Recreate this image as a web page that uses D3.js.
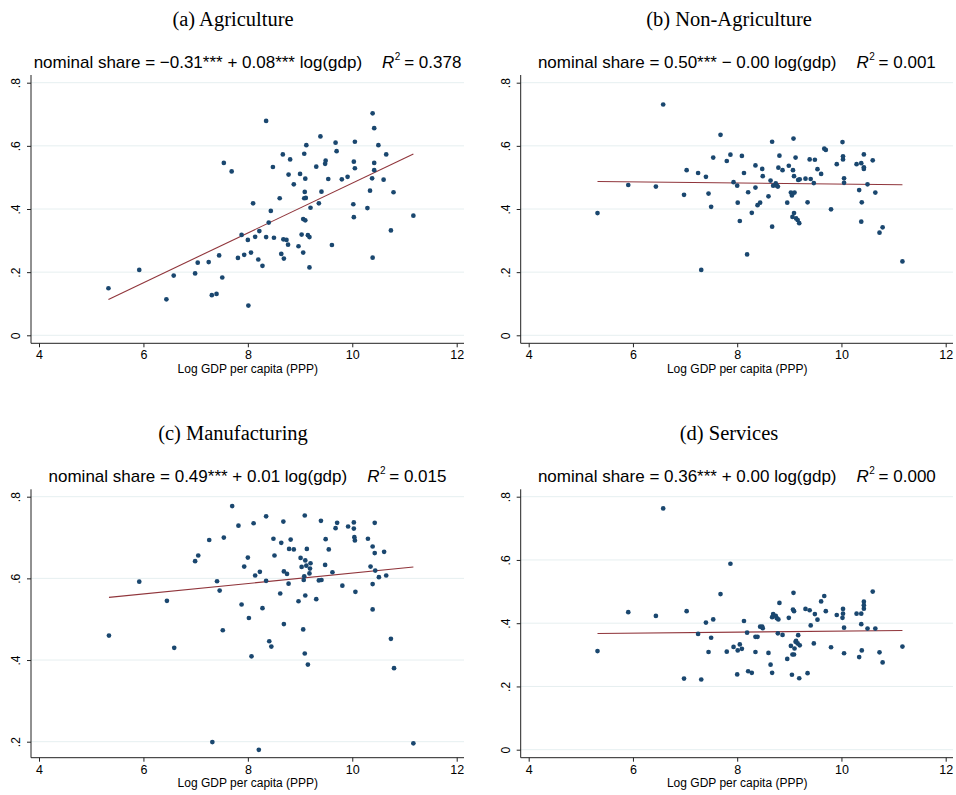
<!DOCTYPE html>
<meta charset="utf-8">
<title>Nominal shares vs log GDP per capita</title>
<style>
  body { margin: 0; background: #fff; }
  svg text { font-family: "Liberation Sans", Arial, sans-serif; }
  .title { font-family: "Liberation Serif", "DejaVu Serif", serif !important; }
</style>
<body>
<div id="container"></div>
<script src="https://cdn.jsdelivr.net/npm/d3@7/dist/d3.min.js"></script>
<script>

// points: [log gdp per capita, nominal share]
const agriculture = [
  [5.33,0.149],[5.92,0.207],[6.44,0.114],[6.58,0.189],[6.99,0.196],[7.04,0.230],[7.25,0.232],
  [7.31,0.127],[7.40,0.131],[7.45,0.253],[7.51,0.183],[7.54,0.546],[7.69,0.519],[7.81,0.245],
  [7.88,0.318],[7.93,0.255],[8.00,0.302],[8.01,0.094],[8.06,0.262],[8.10,0.418],[8.14,0.312],
  [8.20,0.240],[8.22,0.330],[8.28,0.220],[8.35,0.679],[8.35,0.311],[8.40,0.357],[8.44,0.394],
  [8.48,0.533],[8.50,0.309],[8.61,0.434],[8.64,0.258],[8.67,0.573],[8.68,0.304],[8.69,0.243],
  [8.74,0.302],[8.77,0.287],[8.78,0.509],[8.81,0.557],[8.88,0.478],[8.97,0.282],[9.00,0.511],
  [9.03,0.319],[9.06,0.368],[9.06,0.262],[9.08,0.575],[9.08,0.434],[9.09,0.454],[9.10,0.496],
  [9.10,0.364],[9.11,0.435],[9.12,0.602],[9.15,0.317],[9.18,0.311],[9.18,0.215],[9.20,0.404],
  [9.31,0.534],[9.36,0.418],[9.39,0.630],[9.41,0.455],[9.48,0.543],[9.49,0.553],[9.54,0.495],
  [9.61,0.286],[9.68,0.610],[9.70,0.583],[9.80,0.494],[9.91,0.502],[10.02,0.415],[10.03,0.374],
  [10.03,0.550],[10.05,0.529],[10.05,0.613],[10.29,0.403],[10.34,0.458],[10.38,0.497],[10.39,0.703],
  [10.39,0.246],[10.42,0.656],[10.42,0.546],[10.42,0.523],[10.50,0.602],[10.60,0.493],[10.65,0.573],
  [10.74,0.332],[10.79,0.453],[11.17,0.379]
];

const nonAgriculture = [
  [5.32,0.387],[5.91,0.476],[6.44,0.471],[6.58,0.731],[6.98,0.445],[7.03,0.523],[7.25,0.514],
  [7.31,0.207],[7.40,0.502],[7.45,0.449],[7.50,0.407],[7.54,0.563],[7.68,0.635],[7.80,0.552],
  [7.87,0.572],[7.93,0.485],[8.00,0.474],[8.01,0.420],[8.05,0.362],[8.09,0.568],[8.13,0.514],
  [8.19,0.256],[8.21,0.453],[8.28,0.388],[8.35,0.538],[8.35,0.468],[8.39,0.412],[8.44,0.420],
  [8.48,0.527],[8.49,0.504],[8.60,0.440],[8.64,0.490],[8.67,0.613],[8.67,0.344],[8.69,0.474],
  [8.74,0.481],[8.76,0.474],[8.78,0.471],[8.79,0.531],[8.81,0.569],[8.87,0.523],[8.96,0.420],
  [8.99,0.537],[9.03,0.452],[9.05,0.443],[9.06,0.375],[9.07,0.523],[9.08,0.623],[9.09,0.387],
  [9.09,0.504],[9.10,0.452],[9.12,0.563],[9.13,0.370],[9.16,0.365],[9.17,0.492],[9.19,0.355],
  [9.20,0.494],[9.31,0.496],[9.35,0.421],[9.39,0.557],[9.41,0.495],[9.47,0.482],[9.49,0.556],
  [9.54,0.526],[9.61,0.511],[9.67,0.591],[9.70,0.587],[9.80,0.399],[9.91,0.542],[10.02,0.612],
  [10.03,0.567],[10.03,0.557],[10.05,0.497],[10.05,0.483],[10.29,0.542],[10.34,0.460],[10.38,0.545],
  [10.38,0.360],[10.39,0.421],[10.43,0.573],[10.43,0.532],[10.43,0.527],[10.50,0.478],[10.60,0.554],
  [10.65,0.452],[10.73,0.325],[10.79,0.342],[11.17,0.234]
];

const manufacturing = [
  [5.34,0.460],[5.92,0.592],[6.45,0.545],[6.59,0.430],[6.99,0.642],[7.05,0.656],[7.26,0.694],
  [7.32,0.199],[7.41,0.593],[7.46,0.570],[7.52,0.473],[7.54,0.700],[7.70,0.777],[7.82,0.729],
  [7.88,0.536],[7.93,0.629],[8.00,0.651],[8.02,0.503],[8.07,0.409],[8.11,0.735],[8.14,0.607],
  [8.21,0.180],[8.23,0.616],[8.28,0.527],[8.35,0.752],[8.35,0.594],[8.41,0.446],[8.45,0.433],
  [8.49,0.697],[8.51,0.656],[8.62,0.563],[8.64,0.687],[8.68,0.739],[8.69,0.617],[8.69,0.488],
  [8.75,0.611],[8.78,0.587],[8.79,0.672],[8.82,0.695],[8.88,0.671],[8.97,0.544],[9.01,0.650],
  [9.03,0.628],[9.06,0.475],[9.07,0.596],[9.08,0.605],[9.09,0.754],[9.09,0.416],[9.10,0.644],
  [9.10,0.558],[9.12,0.631],[9.13,0.672],[9.15,0.389],[9.18,0.612],[9.19,0.624],[9.20,0.637],
  [9.31,0.549],[9.36,0.595],[9.40,0.741],[9.41,0.596],[9.48,0.633],[9.49,0.696],[9.55,0.671],
  [9.62,0.615],[9.68,0.723],[9.71,0.736],[9.81,0.582],[9.92,0.727],[10.03,0.737],[10.03,0.722],
  [10.04,0.701],[10.05,0.693],[10.06,0.567],[10.30,0.697],[10.35,0.629],[10.39,0.678],[10.39,0.586],
  [10.39,0.524],[10.43,0.736],[10.43,0.662],[10.44,0.619],[10.51,0.603],[10.61,0.665],[10.65,0.607],
  [10.74,0.452],[10.80,0.380],[11.17,0.196]
];

const services = [
  [5.32,0.312],[5.91,0.435],[6.44,0.423],[6.58,0.763],[6.98,0.225],[7.03,0.438],[7.25,0.366],
  [7.31,0.222],[7.40,0.402],[7.45,0.309],[7.50,0.354],[7.54,0.412],[7.68,0.492],[7.80,0.310],
  [7.87,0.588],[7.93,0.325],[8.00,0.238],[8.01,0.314],[8.05,0.333],[8.09,0.319],[8.13,0.407],
  [8.19,0.370],[8.21,0.248],[8.28,0.243],[8.35,0.357],[8.35,0.309],[8.39,0.357],[8.44,0.389],
  [8.48,0.389],[8.49,0.384],[8.60,0.306],[8.64,0.269],[8.67,0.419],[8.67,0.243],[8.69,0.429],
  [8.74,0.423],[8.76,0.416],[8.78,0.368],[8.79,0.412],[8.81,0.464],[8.87,0.363],[8.96,0.287],
  [8.99,0.417],[9.03,0.328],[9.05,0.237],[9.06,0.301],[9.07,0.443],[9.08,0.496],[9.09,0.301],
  [9.09,0.438],[9.10,0.320],[9.12,0.341],[9.13,0.344],[9.16,0.336],[9.17,0.362],[9.19,0.226],
  [9.20,0.330],[9.31,0.445],[9.35,0.242],[9.39,0.441],[9.41,0.393],[9.47,0.336],[9.49,0.429],
  [9.54,0.411],[9.61,0.469],[9.67,0.486],[9.70,0.438],[9.80,0.324],[9.91,0.426],[10.02,0.417],
  [10.03,0.445],[10.03,0.430],[10.05,0.386],[10.05,0.305],[10.29,0.430],[10.34,0.293],[10.38,0.430],
  [10.38,0.397],[10.39,0.314],[10.43,0.468],[10.43,0.457],[10.43,0.446],[10.50,0.383],[10.60,0.500],
  [10.65,0.383],[10.73,0.308],[10.79,0.276],[11.17,0.326]
];

// fitted lines: [intercept, slope]
const fitAgriculture = [-0.307, 0.0789];
const fitNonAgriculture = [0.496, -0.0017];
const fitManufacturing = [0.485, 0.0128];
const fitServices = [0.359, 0.0016];

const titles = ["(a) Agriculture", "(b) Non-Agriculture", "(c) Manufacturing", "(d) Services"];
const equations = [
  "nominal share = \u22120.31*** + 0.08*** log(gdp)",
  "nominal share = 0.50*** \u2212 0.00 log(gdp)",
  "nominal share = 0.49*** + 0.01 log(gdp)",
  "nominal share = 0.36*** + 0.00 log(gdp)"
];
const rSquared = ["0.378", "0.001", "0.015", "0.000"];

const xTicks = [4, 6, 8, 10, 12];
const yTicksFull = [0, 0.2, 0.4, 0.6, 0.8];
const yTicksManuf = [0.2, 0.4, 0.6, 0.8];

const width = 956, height = 795;
const navy = "#1a476f", maroon = "#90353b";

const svg = d3.select("#container").append("svg")
  .attr("width", width).attr("height", height);

// panel layout: frame edges and pixel positions of axis ends
const panels = [
  {pts: agriculture, fit: fitAgriculture, yd: [0, 0.8], yt: yTicksFull,
   left: 31, right: 464, top: 75, bottom: 343.3, x4: 39, x12: 456.7, yLo: 335.3, yHi: 82.7, titleX: 233, titleY: 26},
  {pts: nonAgriculture, fit: fitNonAgriculture, yd: [0, 0.8], yt: yTicksFull,
   left: 520.7, right: 953, top: 75, bottom: 343.3, x4: 528.7, x12: 945.7, yLo: 335.3, yHi: 82.7, titleX: 729, titleY: 26},
  {pts: manufacturing, fit: fitManufacturing, yd: [0.2, 0.8], yt: yTicksManuf,
   left: 31, right: 464, top: 489.3, bottom: 757.7, x4: 39, x12: 456.7, yLo: 741.7, yHi: 496.7, titleX: 233, titleY: 440},
  {pts: services, fit: fitServices, yd: [0, 0.8], yt: yTicksFull,
   left: 520.7, right: 953, top: 489.3, bottom: 757.7, x4: 528.7, x12: 945.7, yLo: 749.7, yHi: 496.7, titleX: 729, titleY: 440}
];

const fmt = d => d === 0 ? "0" : d3.format(".1f")(d).replace(/^0/, "");

panels.forEach((p, i) => {
  const g = svg.append("g");
  const x = d3.scaleLinear().domain([4, 12]).range([p.x4, p.x12]);
  const y = d3.scaleLinear().domain(p.yd).range([p.yLo, p.yHi]);

  // title
  g.append("text").attr("class", "title")
    .attr("x", p.titleX).attr("y", p.titleY)
    .attr("text-anchor", "middle")
    .style("font-size", "20.5px")
    .text(titles[i]);

  // equation line
  const eq = g.append("text")
    .attr("x", (p.left + p.right) / 2).attr("y", p.top - 7)
    .attr("text-anchor", "middle")
    .style("font-size", "17px");
  eq.append("tspan").text(equations[i]);
  eq.append("tspan").attr("dx", 20).style("font-style", "italic").text("R");
  eq.append("tspan").attr("dx", 0.5).attr("dy", -8).style("font-size", "10px").text("2");
  eq.append("tspan").attr("dx", -1).attr("dy", 8).text(" = " + rSquared[i]);

  // grid
  g.selectAll(".grid").data(p.yt).join("line")
    .attr("x1", p.left).attr("x2", p.right)
    .attr("y1", d => y(d)).attr("y2", d => y(d))
    .attr("stroke", "#e6eff0").attr("stroke-width", 1);

  // axes
  const yAxis = g.append("g").attr("transform", `translate(${p.left},0)`)
    .call(d3.axisLeft(y).tickValues(p.yt).tickSize(4).tickPadding(7).tickFormat(fmt));
  yAxis.select(".domain").attr("d", `M0,${p.bottom}V${p.top}`);
  yAxis.selectAll(".tick text")
    .attr("transform", "rotate(-90)")
    .attr("x", 0).attr("y", -11).attr("dy", 0)
    .attr("text-anchor", "middle")
    .style("font-size", "12px");

  const xAxis = g.append("g").attr("transform", `translate(0,${p.bottom})`)
    .call(d3.axisBottom(x).tickValues(xTicks).tickSize(4).tickPadding(3));
  xAxis.select(".domain").attr("d", `M${p.left},0H${p.right}`);
  xAxis.selectAll(".tick text").style("font-size", "12.5px");
  g.selectAll(".domain, .tick line").attr("stroke", "#222");

  g.append("text")
    .attr("x", (p.x4 + p.x12) / 2).attr("y", p.bottom + 29.5)
    .attr("text-anchor", "middle")
    .style("font-size", "12px")
    .text("Log GDP per capita (PPP)");

  // fitted line across the observed range
  const xr = d3.extent(p.pts, d => d[0]);
  g.append("line")
    .attr("x1", x(xr[0])).attr("y1", y(p.fit[0] + p.fit[1] * xr[0]))
    .attr("x2", x(xr[1])).attr("y2", y(p.fit[0] + p.fit[1] * xr[1]))
    .attr("stroke", maroon).attr("stroke-width", 1.1);

  // points
  g.selectAll("circle").data(p.pts).join("circle")
    .attr("cx", d => x(d[0])).attr("cy", d => y(d[1]))
    .attr("r", 2.35).attr("fill", navy);
});
</script>
</body>
